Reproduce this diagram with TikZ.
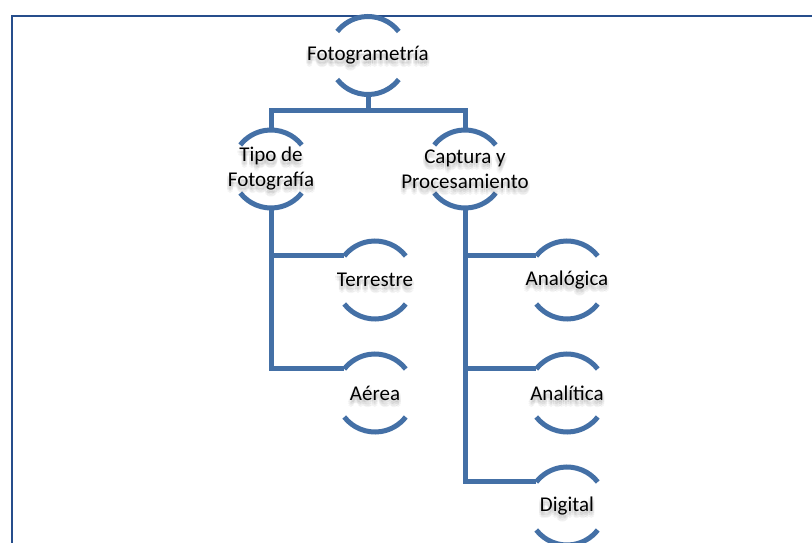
\documentclass[tikz,border=0pt]{standalone}
\usepackage{fontspec}
\setmainfont{Carlito}
\definecolor{framec}{RGB}{38,78,140}
\definecolor{linkc}{RGB}{68,112,166}
\begin{document}
\begin{tikzpicture}[x=1pt,y=-1pt,
  hub/.style={circle,minimum size=78pt,inner sep=0pt,outer sep=0pt},
  lbl/.style={align=center,inner sep=0pt,font=\fontsize{21}{25}\selectfont,text=black},
  shadowlbl/.style={lbl,text=black!70,opacity=0.05},
  link/.style={draw=linkc,line width=5pt},
  ring/.style={draw=linkc,line width=5pt}]
\useasboundingbox (0,0) rectangle (812,543);
\clip (0,0) rectangle (812,543);
\fill[white] (0,0) rectangle (812,543);
\draw[framec,line width=2.2pt] (12,16) rectangle (840,580);

% circular hubs
\node[hub] (foto) at (368,55.5) {};
\node[hub] (tipo) at (271,169) {};
\node[hub] (capt) at (465,169) {};
\node[hub] (terr) at (375,280) {};
\node[hub] (aere) at (375,393) {};
\node[hub] (anlg) at (567,280) {};
\node[hub] (anlt) at (567,393) {};
\node[hub] (digi) at (567,506) {};

% upper and lower arcs of each hub
\foreach \n in {foto,tipo,capt,terr,aere,anlg,anlt,digi}{
  \draw[ring] (\n.38) arc[start angle=38,end angle=142,radius=39pt];
  \draw[ring] (\n.218) arc[start angle=218,end angle=322,radius=39pt];
}

% connectors
\coordinate (bus) at (368,111);
\draw[link] (foto.south) -- (bus);
\draw[link] (tipo.north) |- (bus) -| (capt.north);
\draw[link] (tipo.south) |- (terr.142);
\draw[link] (tipo.south) |- (aere.142);
\draw[link] (capt.south) |- (anlg.142);
\draw[link] (capt.south) |- (anlt.142);
\draw[link] (capt.south) |- (digi.142);

% labels over a soft, blurred drop shadow
\foreach \n/\t in {foto/{Fotogrametría},tipo/{Tipo de\\Fotografía},capt/{Captura y\\Procesamiento},terr/{Terrestre},aere/{Aérea},anlg/{Analógica},anlt/{Analítica},digi/{Digital}}{
  \foreach \dx/\dy in {0/3,2/4,-2/4,0/5,1.5/6,-1.5/6,0/4,2/2.5,-2/2.5,0/7}{
    \node[shadowlbl] at ([shift={(\dx,\dy)}]\n.center) {\t};
  }
  \node[lbl] at (\n.center) {\t};
}
\end{tikzpicture}
\end{document}
